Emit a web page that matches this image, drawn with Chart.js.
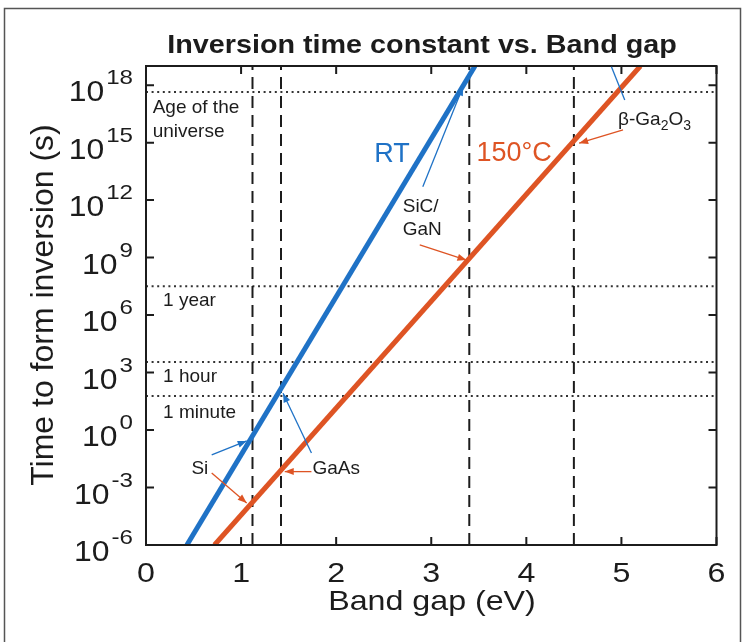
<!DOCTYPE html>
<html>
<head>
<meta charset="utf-8">
<script src="https://cdn.jsdelivr.net/npm/chart.js@4/dist/chart.umd.min.js"></script>
<style>
  html, body { margin: 0; padding: 0; background: #fff; }
  #wrap { width: 747px; height: 642px; }
</style>
</head>
<body>
<div id="wrap"><canvas id="chart" width="747" height="642"></canvas></div>
<script>
// data
const bandGapRT = [0.43, 3.46];          // eV
const timeRT = [1e-6, 1e19];             // s
const bandGap150 = [0.72, 5.2];
const time150 = [1e-6, 1e19];
const materialGaps = [1.12, 1.42, 3.4, 4.5];        // Si, GaAs, SiC/GaN, b-Ga2O3
const timeMarks = [4.35e17, 3.15e7, 3600, 60];      // age of universe, year, hour, minute
const xTicks = [0, 1, 2, 3, 4, 5, 6];
const yTickExps = [-6, -3, 0, 3, 6, 9, 12, 15, 18];
const yMin = 1e-6, yMax = 1e19;

const BLUE = '#1f72c6';
const ORANGE = '#de5424';
const INK = '#1c1c1c';
const FONT = "'Liberation Sans', Arial, Helvetica, sans-serif";

// text labels, placed in data units (x in eV, y as log10 of seconds)
const labels = [
  { parts: [['Age of the']], x: 0.07, ly: 16.53, size: 19, color: INK },
  { parts: [['universe']], x: 0.07, ly: 15.31, size: 19, color: INK },
  { parts: [['1 year']], x: 0.18, ly: 6.45, size: 19, color: INK },
  { parts: [['1 hour']], x: 0.18, ly: 2.52, size: 19, color: INK },
  { parts: [['1 minute']], x: 0.18, ly: 0.61, size: 19, color: INK },
  { parts: [['RT']], x: 2.40, ly: 14.01, size: 27, color: BLUE },
  { parts: [['150°C']], x: 3.475, ly: 14.06, size: 27, color: ORANGE },
  { parts: [['SiC/']], x: 2.70, ly: 11.40, size: 19, color: INK },
  { parts: [['GaN']], x: 2.70, ly: 10.18, size: 19, color: INK },
  { parts: [['β-Ga'], ['2', 'sub'], ['O'], ['3', 'sub']], x: 4.965, ly: 15.92, size: 19, color: INK },
  { parts: [['Si']], x: 0.478, ly: -2.30, size: 19, color: INK },
  { parts: [['GaAs']], x: 1.75, ly: -2.30, size: 19, color: INK }
];

// pointer arrows, from -> to, in the same units
const arrows = [
  { from: [0.691, -1.30], to: [1.059, -0.57], color: BLUE, head: true },
  { from: [0.691, -2.24], to: [1.059, -3.81], color: ORANGE, head: true },
  { from: [1.740, -1.20], to: [1.441, 1.92], color: BLUE, head: true },
  { from: [1.740, -2.17], to: [1.459, -2.17], color: ORANGE, head: true },
  { from: [2.911, 12.70], to: [3.334, 17.92], color: BLUE, head: true },
  { from: [2.879, 9.66], to: [3.370, 8.87], color: ORANGE, head: true },
  { from: [4.895, 18.96], to: [5.035, 17.23], color: BLUE, head: false },
  { from: [5.017, 15.66], to: [4.555, 14.97], color: ORANGE, head: true }
];

const lineSet = (xs, ys, color) => ({
  data: xs.map((x, i) => ({ x: x, y: ys[i] })),
  borderColor: color, borderWidth: 5, showLine: true, pointRadius: 0, borderCapStyle: 'butt'
});

const datasets = [
  lineSet(bandGapRT, timeRT, BLUE),
  lineSet(bandGap150, time150, ORANGE)
];
materialGaps.forEach(g => datasets.push({
  data: [{ x: g, y: yMin }, { x: g, y: yMax }],
  borderColor: INK, borderWidth: 2, borderDash: [12, 7], showLine: true, pointRadius: 0
}));
timeMarks.forEach(t => datasets.push({
  data: [{ x: 0, y: t }, { x: 6, y: t }],
  borderColor: '#333', borderWidth: 2, borderDash: [2, 3.6], showLine: true, pointRadius: 0
}));

// text with a horizontal stretch (the original lettering is wide)
function stretchText(ctx, s, x, y, font, align, sx) {
  ctx.save();
  ctx.font = font;
  ctx.textAlign = 'left';
  const w = ctx.measureText(s).width * sx;
  const x0 = align === 'center' ? x - w / 2 : align === 'right' ? x - w : x;
  ctx.translate(x0, y);
  ctx.scale(sx, 1);
  ctx.fillText(s, 0, 0);
  ctx.restore();
  return w;
}

const decor = {
  id: 'decor',
  beforeDraw(chart) {
    const ctx = chart.ctx;
    ctx.save();
    ctx.strokeStyle = '#555';
    ctx.lineWidth = 1.5;
    ctx.strokeRect(4.5, 8.5, 736, 700);
    ctx.restore();
  },
  afterDraw(chart) {
    const ctx = chart.ctx;
    const xs = chart.scales.x, ys = chart.scales.y;
    const a = chart.chartArea;
    const P = (x, ly) => [xs.getPixelForValue(x), ys.getPixelForValue(Math.pow(10, ly))];
    ctx.save();

    // axes box
    ctx.strokeStyle = INK;
    ctx.lineWidth = 2;
    ctx.strokeRect(a.left, a.top, a.right - a.left, a.bottom - a.top);

    // inward ticks on all four sides
    const tl = 8;
    ctx.beginPath();
    xTicks.forEach(v => {
      const x = xs.getPixelForValue(v);
      ctx.moveTo(x, a.bottom); ctx.lineTo(x, a.bottom - tl);
      ctx.moveTo(x, a.top); ctx.lineTo(x, a.top + tl);
    });
    yTickExps.forEach(e => {
      const y = ys.getPixelForValue(Math.pow(10, e));
      ctx.moveTo(a.left, y); ctx.lineTo(a.left + tl, y);
      ctx.moveTo(a.right, y); ctx.lineTo(a.right - tl, y);
    });
    ctx.stroke();

    ctx.fillStyle = INK;
    ctx.textBaseline = 'alphabetic';

    // x tick labels
    xTicks.forEach(v => stretchText(ctx, String(v), xs.getPixelForValue(v), a.bottom + 37, '28px ' + FONT, 'center', 1.15));

    // y tick labels 10^n
    yTickExps.forEach(e => {
      const y = ys.getPixelForValue(Math.pow(10, e));
      const right = a.left - 13;
      const ew = stretchText(ctx, String(e), right, y - 1, '21px ' + FONT, 'right', 1.15);
      stretchText(ctx, '10', right - ew - 2, y + 16, '29px ' + FONT, 'right', 1.1);
    });

    // axis titles
    stretchText(ctx, 'Band gap (eV)', 432, a.bottom + 65, '28px ' + FONT, 'center', 1.15);
    ctx.save();
    ctx.translate(53, 305);
    ctx.rotate(-Math.PI / 2);
    ctx.font = '32px ' + FONT;
    ctx.textAlign = 'center';
    ctx.fillText('Time to form inversion (s)', 0, 0);
    ctx.restore();

    // title
    stretchText(ctx, 'Inversion time constant vs. Band gap', 422, 53, 'bold 25px ' + FONT, 'center', 1.15);

    // arrows
    arrows.forEach(ar => {
      const [x1, y1] = P(ar.from[0], ar.from[1]);
      const [x2, y2] = P(ar.to[0], ar.to[1]);
      ctx.strokeStyle = ar.color;
      ctx.fillStyle = ar.color;
      ctx.lineWidth = 1.3;
      ctx.beginPath(); ctx.moveTo(x1, y1); ctx.lineTo(x2, y2); ctx.stroke();
      if (ar.head) {
        const ang = Math.atan2(y2 - y1, x2 - x1);
        const L = 9, W = 3.5;
        ctx.beginPath();
        ctx.moveTo(x2, y2);
        ctx.lineTo(x2 - L * Math.cos(ang) + W * Math.sin(ang), y2 - L * Math.sin(ang) - W * Math.cos(ang));
        ctx.lineTo(x2 - L * Math.cos(ang) - W * Math.sin(ang), y2 - L * Math.sin(ang) + W * Math.cos(ang));
        ctx.closePath();
        ctx.fill();
      }
    });

    // text labels
    ctx.textAlign = 'left';
    labels.forEach(lb => {
      let [x, y] = P(lb.x, lb.ly);
      ctx.fillStyle = lb.color;
      lb.parts.forEach(([t, kind]) => {
        const sz = kind === 'sub' ? Math.round(lb.size * 0.72) : lb.size;
        ctx.font = sz + 'px ' + FONT;
        ctx.fillText(t, x, kind === 'sub' ? y + 5 : y);
        x += ctx.measureText(t).width;
      });
    });

    ctx.restore();
  }
};

new Chart(document.getElementById('chart'), {
  type: 'scatter',
  data: { datasets: datasets },
  options: {
    responsive: false,
    animation: false,
    devicePixelRatio: 1,
    layout: { padding: { left: 146, top: 66, right: 30.5, bottom: 97 } },
    plugins: { legend: { display: false }, tooltip: { enabled: false } },
    scales: {
      x: { type: 'linear', min: 0, max: 6, display: false },
      y: { type: 'logarithmic', min: yMin, max: yMax, display: false }
    }
  },
  plugins: [decor]
});
</script>
</body>
</html>
